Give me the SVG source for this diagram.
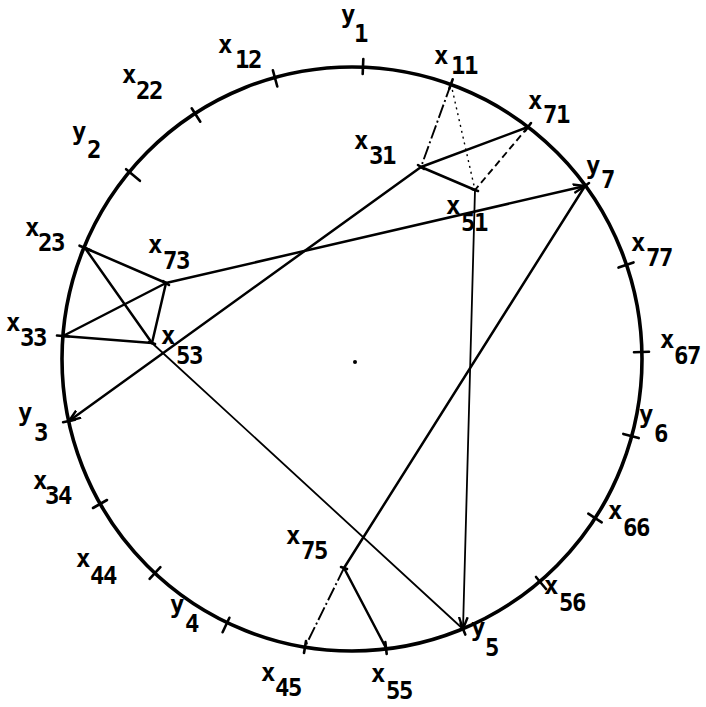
<svg xmlns="http://www.w3.org/2000/svg" width="706" height="707" viewBox="0 0 706 707">
<defs>
<style>
.t{stroke:#000;stroke-width:2.6;stroke-linecap:round}
.c{fill:none;stroke:#000;stroke-width:2.5;stroke-linecap:round}
.thin{fill:none;stroke:#000;stroke-width:1.8;stroke-linecap:round}
.dd{fill:none;stroke:#000;stroke-width:1.9;stroke-dasharray:14 3 2 3}
.ds{fill:none;stroke:#000;stroke-width:1.9;stroke-dasharray:7 4}
.dt{fill:none;stroke:#000;stroke-width:1.4;stroke-dasharray:2 4}
text{font-family:"DejaVu Sans Mono","Liberation Mono",monospace;font-size:24px;font-weight:bold;letter-spacing:-1.5px;fill:#000}
</style>
<marker id="arr" viewBox="0 0 12 10" refX="11" refY="5" markerWidth="13" markerHeight="11" markerUnits="userSpaceOnUse" orient="auto">
<path d="M0,1 L11,5 L0,9" fill="none" stroke="#000" stroke-width="2.2"/>
</marker>
</defs>
<rect width="706" height="707" fill="#fff"/>
<ellipse cx="352" cy="359" rx="290" ry="292" fill="none" stroke="#000" stroke-width="3.6"/>
<circle cx="355" cy="362" r="2" fill="#000"/>

<g id="connectors">
<line class="c" x1="85" y1="248" x2="166" y2="283"/>
<line class="c" x1="85" y1="248" x2="152" y2="343"/>
<line class="c" x1="63" y1="336" x2="166" y2="283"/>
<line class="c" x1="63" y1="336" x2="152" y2="343"/>
<line class="c" x1="166" y1="283" x2="152" y2="343"/>
<line class="c" x1="166" y1="283" x2="585" y2="186" marker-end="url(#arr)"/>
<line class="c" x1="421" y1="167" x2="69" y2="421" marker-end="url(#arr)"/>
<line class="thin" x1="152" y1="343" x2="463" y2="629"/>
<line class="dd" x1="451" y1="84" x2="421" y2="167"/>
<line class="dt" x1="451" y1="84" x2="475" y2="190"/>
<line class="c" x1="528" y1="127" x2="421" y2="167"/>
<line class="ds" x1="528" y1="127" x2="475" y2="190"/>
<line class="c" x1="421" y1="167" x2="475" y2="190"/>
<line class="thin" x1="475" y1="190" x2="463" y2="629" marker-end="url(#arr)"/>
<line class="c" x1="585" y1="186" x2="344" y2="568"/>
<line class="dd" x1="344" y1="568" x2="305" y2="647"/>
<line class="c" x1="344" y1="568" x2="386" y2="648"/>
</g>

<g id="y1"><line class="t" x1="362.7" y1="74" x2="363.3" y2="59"/><text x="341" y="23">y</text><text x="354" y="42">1</text></g>
<g id="x12"><line class="t" x1="277.3" y1="86.5" x2="272.9" y2="70.3"/><text x="218" y="53">x</text><text x="235" y="68">12</text></g>
<g id="x22"><line class="t" x1="200.3" y1="121.7" x2="191.7" y2="108.3"/><text x="122" y="83">x</text><text x="136" y="99">22</text></g>
<g id="y2"><line class="t" x1="139.9" y1="180.8" x2="126.1" y2="169.2"/><text x="72" y="140">y</text><text x="87" y="158">2</text></g>
<g id="x23"><line class="t" x1="90.5" y1="250.3" x2="79.5" y2="245.7"/><text x="25" y="236">x</text><text x="38" y="251">23</text></g>
<g id="x33"><line class="t" x1="69" y1="336.5" x2="57" y2="335.5"/><text x="6" y="331">x</text><text x="20" y="346">33</text></g>
<g id="y3"><line class="t" x1="74.9" y1="419.7" x2="63.1" y2="422.3"/><text x="18" y="421">y</text><text x="34" y="441">3</text></g>
<g id="x34"><line class="t" x1="107" y1="500" x2="93" y2="508"/><text x="33" y="489">x</text><text x="45" y="504">34</text></g>
<g id="x44"><line class="t" x1="160.4" y1="567.1" x2="149.6" y2="578.9"/><text x="76" y="567">x</text><text x="90" y="584">44</text></g>
<g id="y4"><line class="t" x1="229.4" y1="617.8" x2="222.6" y2="632.2"/><text x="170" y="613">y</text><text x="185" y="632">4</text></g>
<g id="x45"><line class="t" x1="306" y1="641" x2="304" y2="653"/><text x="261" y="681">x</text><text x="275" y="696">45</text></g>
<g id="x55"><line class="t" x1="385.3" y1="642" x2="386.7" y2="654"/><text x="371" y="682">x</text><text x="386" y="699">55</text></g>
<g id="y5"><line class="t" x1="460.7" y1="623.4" x2="465.3" y2="634.6"/><text x="471" y="636">y</text><text x="485" y="656">5</text></g>
<g id="x56"><line class="t" x1="536" y1="577" x2="546" y2="589"/><text x="544" y="594">x</text><text x="559" y="611">56</text></g>
<g id="x66"><line class="t" x1="588.3" y1="513.6" x2="601.7" y2="522.4"/><text x="608" y="519">x</text><text x="623" y="536">66</text></g>
<g id="y6"><line class="t" x1="623.3" y1="433.9" x2="638.7" y2="438.1"/><text x="639" y="423">y</text><text x="654" y="442">6</text></g>
<g id="x67"><line class="t" x1="634" y1="352.2" x2="649" y2="351.8"/><text x="660" y="348">x</text><text x="674" y="364">67</text></g>
<g id="x77"><line class="t" x1="618.5" y1="267.6" x2="633.5" y2="262.4"/><text x="631" y="251">x</text><text x="646" y="266">77</text></g>
<g id="y7"><line class="t" x1="581" y1="189" x2="589" y2="183"/><text x="586" y="174">y</text><text x="601" y="188">7</text></g>
<g id="x71"><line class="t" x1="525" y1="131" x2="531" y2="123"/><text x="528" y="109">x</text><text x="543" y="123">71</text></g>
<g id="x11"><line class="t" x1="449.3" y1="88.7" x2="452.7" y2="79.3"/><text x="434" y="64">x</text><text x="451" y="74">11</text></g>
<g id="x31"><line class="t" x1="418" y1="165" x2="424" y2="169"/><text x="354" y="149">x</text><text x="369" y="164">31</text></g>
<g id="x51"><line class="t" x1="472" y1="189" x2="478" y2="191"/><text x="446" y="214">x</text><text x="461" y="231">51</text></g>
<g id="x73"><line class="t" x1="163" y1="281" x2="169" y2="285"/><text x="148" y="253">x</text><text x="163" y="269">73</text></g>
<g id="x53"><line class="t" x1="149" y1="342" x2="155" y2="344"/><text x="161" y="344">x</text><text x="176" y="364">53</text></g>
<g id="x75"><line class="t" x1="341" y1="567" x2="347" y2="569"/><text x="286" y="544">x</text><text x="301" y="559">75</text></g>
</svg>
